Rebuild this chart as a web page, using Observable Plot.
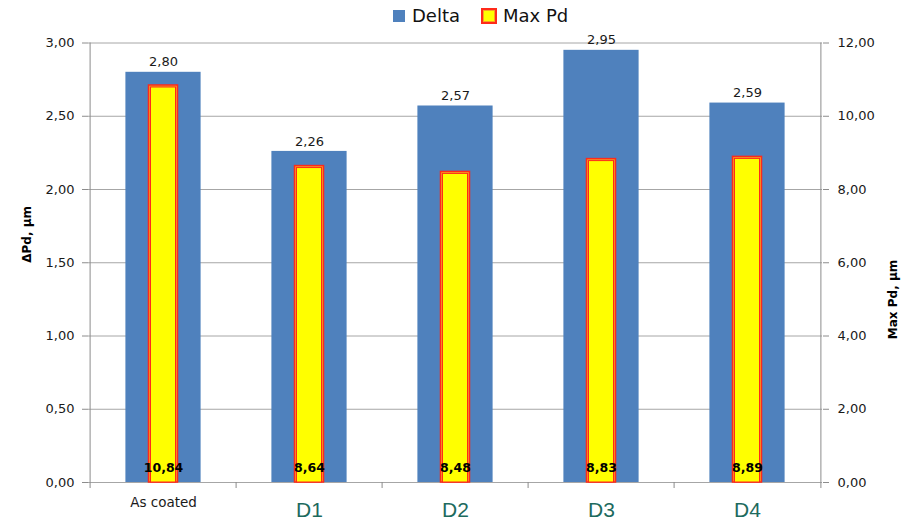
<!DOCTYPE html>
<html><head><meta charset="utf-8">
<script src="https://cdn.jsdelivr.net/npm/d3@7"></script>
<script src="https://cdn.jsdelivr.net/npm/@observablehq/plot@0.6"></script>
<style>
body{margin:0;background:#fff;font-family:"DejaVu Sans",sans-serif}
#wrap{position:relative;width:909px;height:520px;overflow:hidden}
#legend{position:relative;height:30px;width:909px}
.sw{position:absolute;box-sizing:border-box}
.lt{position:absolute;font-size:18px;color:#111;line-height:18px}
</style></head><body>
<div id="wrap">
  <div id="legend">
    <div class="sw" style="left:393px;top:10px;width:12px;height:12px;background:#4F81BD"></div>
    <div class="lt" style="left:412px;top:7px">Delta</div>
    <div class="sw" style="left:481px;top:8px;width:16px;height:16px;background:#FFFF00;border:2px solid #FF2A1A;box-shadow:inset 0 0 0 1px #F5A623"></div>
    <div class="lt" style="left:503px;top:7px">Max Pd</div>
  </div>
  <div id="chart"></div>
</div>
<script>
const categories = ["As coated", "D1", "D2", "D3", "D4"];
const delta = [2.80, 2.26, 2.57, 2.95, 2.59];
const maxPd = [10.84, 8.64, 8.48, 8.83, 8.89];
const leftTicks = [0, 0.5, 1, 1.5, 2, 2.5, 3];
const rightTicks = [0, 2, 4, 6, 8, 10, 12];
const leftMax = 3, rightMax = 12;
const leftTitle = "\u0394Pd, \u00b5m";
const rightTitle = "Max Pd, \u00b5m";

const data = categories.map((c, i) => ({cat: c, delta: delta[i], maxPd: maxPd[i]}));
const fmt = d => d3.format(".2f")(d).replace(".", ",");
const toLeft = v => v * leftMax / rightMax;

const W = 909, H = 490, mL = 88, mR = 87;
const half = (W - mL - mR) / categories.length / 2;
const axisColor = "#8C8C8C";

const chart = Plot.plot({
  width: W, height: H,
  marginTop: 12.5, marginBottom: 38, marginLeft: mL, marginRight: mR,
  x: {domain: categories, padding: 0, axis: null},
  y: {domain: [0, leftMax], axis: null},
  style: {fontFamily: "DejaVu Sans", fontSize: "13px", color: "#1a1a1a", background: "#fff"},
  marks: [
    Plot.gridY(leftTicks, {stroke: "#A6A6A6", strokeOpacity: 1}),
    Plot.axisY(leftTicks, {anchor: "left", tickSize: 6, tickPadding: 8, tickFormat: fmt, stroke: axisColor, fill: "#1a1a1a", fontSize: 13, label: null}),
    Plot.axisY(rightTicks.map(toLeft), {anchor: "right", tickSize: 6, tickPadding: 9, tickFormat: d => fmt(d * rightMax / leftMax), stroke: axisColor, fill: "#1a1a1a", fontSize: 13, label: null}),
    Plot.ruleX([categories[0]], {dx: -half, stroke: axisColor}),
    Plot.ruleX([categories[categories.length - 1]], {dx: half, stroke: axisColor}),
    Plot.axisX(categories, {tickSize: 6, dx: -half, tickFormat: () => "", stroke: axisColor, label: null}),
    Plot.axisX([categories[categories.length - 1]], {tickSize: 6, dx: half, tickFormat: () => "", stroke: axisColor, label: null}),
    Plot.barY(data, {x: "cat", y: "delta", fill: "#4F81BD", insetLeft: 35.4, insetRight: 35.4}),
    Plot.barY(data, {x: "cat", y: d => toLeft(d.maxPd), fill: "#F5A623", stroke: "#FF2A1A", strokeWidth: 1.5, insetLeft: 58.5, insetRight: 58.5}),
    Plot.barY(data, {x: "cat", y: d => toLeft(d.maxPd), fill: "#FFFF00", stroke: "#FF2A1A", strokeWidth: 1, insetLeft: 60.5, insetRight: 60.5, insetTop: 2}),
    Plot.text(data, {x: "cat", y: "delta", text: d => fmt(d.delta), dy: -10, fontSize: 13, fill: "#1a1a1a"}),
    Plot.text(data, {x: "cat", y: 0, text: d => fmt(d.maxPd), dy: -15, fontSize: 12.5, fontWeight: "bold", fill: "#000"}),
    Plot.text(categories.slice(0, 1), {x: d => d, y: 0, dy: 20, fontSize: 13.5, fill: "#1a1a1a"}),
    Plot.text(categories.slice(1), {x: d => d, y: 0, dy: 28, fontSize: 21, fontFamily: "Liberation Sans", fill: "#1D6A5E"}),
    Plot.text([leftTitle], {frameAnchor: "left", rotate: -90, dx: -61, fontSize: 12, fontWeight: "bold", fill: "#000"}),
    Plot.text([rightTitle], {frameAnchor: "right", rotate: -90, dx: 71, dy: -3, fontSize: 12, fontWeight: "bold", fill: "#000"})
  ]
});
document.getElementById("chart").appendChild(chart);
</script>
</body></html>
